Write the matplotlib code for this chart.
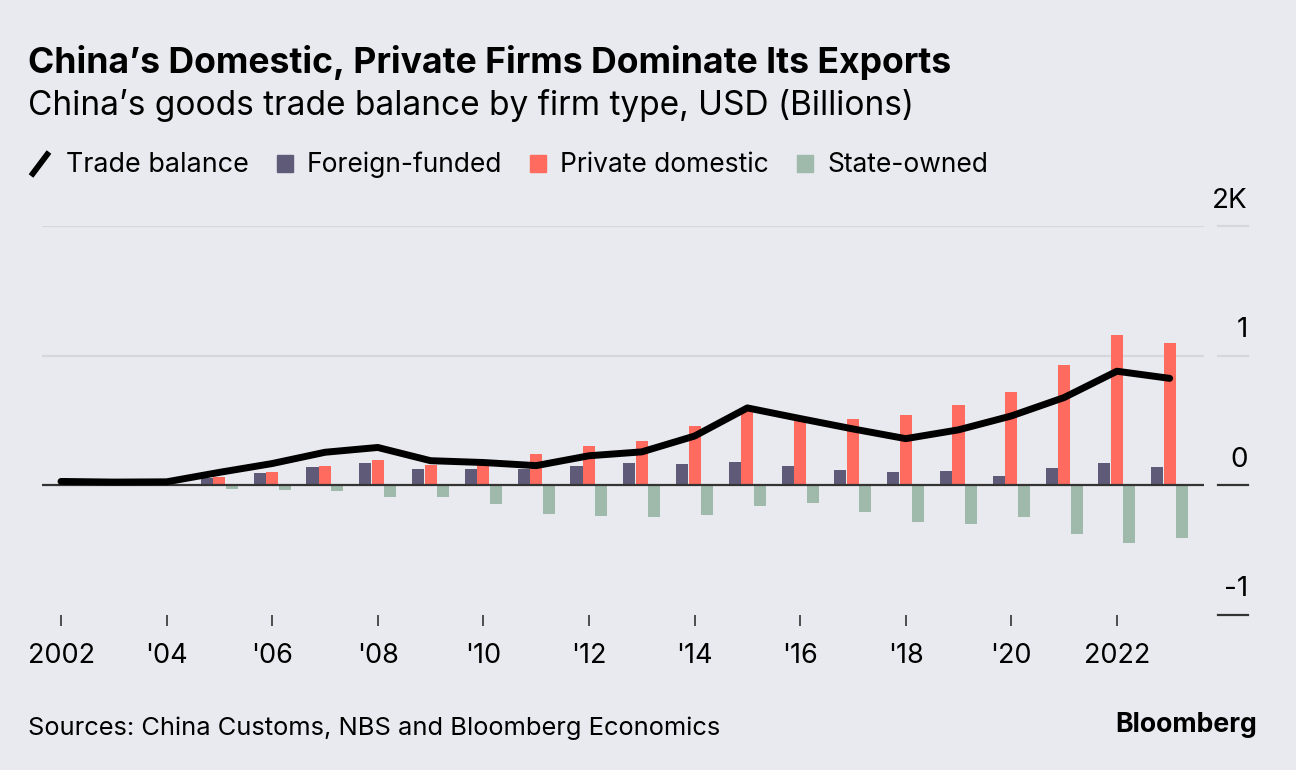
import numpy as np
import matplotlib
matplotlib.use("Agg")
from matplotlib import pyplot as plt
from matplotlib import transforms
from matplotlib.lines import Line2D
from matplotlib.patches import Rectangle

plt.rcParams['font.family'] = ['Inter', 'DejaVu Sans']

years = np.arange(2002, 2024)
# USD billions
trade_balance = [30, 25, 27, 100, 168, 255, 292, 190, 176, 152, 228, 258, 380, 597, 515, 435, 360, 428, 535, 677, 880, 825]
foreign_funded = [9, 8, 14, 58, 92, 139, 172, 128, 126, 125, 151, 169, 166, 177, 149, 118, 105, 110, 69, 136, 172, 141]
private_domestic = [5, 6, 10, 62, 102, 151, 197, 156, 195, 238, 305, 341, 454, 585, 503, 514, 539, 616, 721, 926, 1157, 1098]
state_owned = [10, 4, -8, -27, -33, -41, -92, -92, -146, -221, -233, -246, -231, -162, -139, -203, -285, -295, -246, -377, -444, -408]

tick_years = list(range(2002, 2023, 2))
tick_labels = ["2002", "'04", "'06", "'08", "'10", "'12", "'14", "'16", "'18", "'20", "2022"]
y_levels = [2000, 1000, 0, -1000]
y_labels = ["2K", "1", "0", "-1"]

bg = "#e9eaef"
c_foreign = "#5f5a78"
c_private = "#ff6b5e"
c_state = "#9fb9ab"
c_grid = "#d6d7dc"
c_dark = "#333333"

W, H = 1296, 770
fig = plt.figure(figsize=(W / 100, H / 100), dpi=100, facecolor=bg)
renderer = fig.canvas.get_renderer()


def fit(t, width_px):
    # scale a text so that it spans width_px on the canvas
    w = t.get_window_extent(renderer).width
    t.set_fontsize(t.get_fontsize() * width_px / w)
    return t


ax = fig.add_axes([42 / W, 1 - 615 / H, (1204 - 42) / W, (615 - 226) / H])
ax.set_facecolor(bg)

bw = 0.228
off = 0.236
ax.bar(years - off, foreign_funded, width=bw, color=c_foreign, zorder=2)
ax.bar(years, private_domestic, width=bw, color=c_private, zorder=2)
ax.bar(years + off, state_owned, width=bw, color=c_state, zorder=2)
ax.plot(years, trade_balance, color="black", lw=5, solid_capstyle="round", solid_joinstyle="round", zorder=4)

ax.set_xlim(2001.64, 2023.65)
ax.set_ylim(-1000, 2000)
for s in ax.spines.values():
    s.set_visible(False)

for lv in [2000, 1000]:
    ax.axhline(lv, color=c_grid, lw=1.6, zorder=1)
ax.axhline(0, color=c_dark, lw=1.6, zorder=3)

ax.set_yticks([])
ax.set_xticks(tick_years)
ax.set_xticklabels(tick_labels, fontsize=19.5)
ax.tick_params(axis="x", length=8, width=1.2, color=c_dark, pad=12)

# right-hand y scale: short segments plus labels
tr = transforms.blended_transform_factory(fig.transFigure, ax.transData)
for lv, lab in zip(y_levels, y_labels):
    col = c_grid if lv > 0 else c_dark
    ax.plot([1218 / W, 1248 / W], [lv, lv], transform=tr, color=col, lw=1.6, clip_on=False)
    ax.annotate(lab, xy=(1248 / W, lv), xycoords=tr, xytext=(0, 9), textcoords="offset points",
                ha="right", va="bottom", fontsize=20, color="black")

fit(fig.text(28 / W, 1 - 62 / H, "China\u2019s Domestic, Private Firms Dominate Its Exports",
             fontsize=22, fontweight="bold", va="center", ha="left"), 922)
fit(fig.text(28 / W, 1 - 106 / H, "China\u2019s goods trade balance by firm type, USD (Billions)",
             fontsize=20, va="center", ha="left"), 885)
fit(fig.text(28 / W, 1 - 728 / H, "Sources: China Customs, NBS and Bloomberg Economics",
             fontsize=17, va="center", ha="left"), 694)
fit(fig.text(1257 / W, 1 - 725 / H, "Bloomberg", fontsize=18, fontweight="bold", va="center", ha="right"), 142)

# legend drawn along one row
ly = 1 - 165 / H
fig.add_artist(Line2D([31 / W, 49 / W], [1 - 176 / H, 1 - 152 / H], color="black", lw=4.2, solid_capstyle="butt"))
x = 66
entries = [("Trade balance", None), ("Foreign-funded", c_foreign), ("Private domestic", c_private), ("State-owned", c_state)]
for i, (name, col) in enumerate(entries):
    if col is not None:
        fig.add_artist(Rectangle((x / W, 1 - 172 / H), 16 / W, 17 / H, color=col, transform=fig.transFigure))
        x += 30
    t = fig.text(x / W, ly, name, fontsize=19, va="center", ha="left")
    if i == 0:
        fit(t, 182)
    x += t.get_window_extent(renderer).width + 28

fig.savefig("out.png", dpi=100, facecolor=bg)
